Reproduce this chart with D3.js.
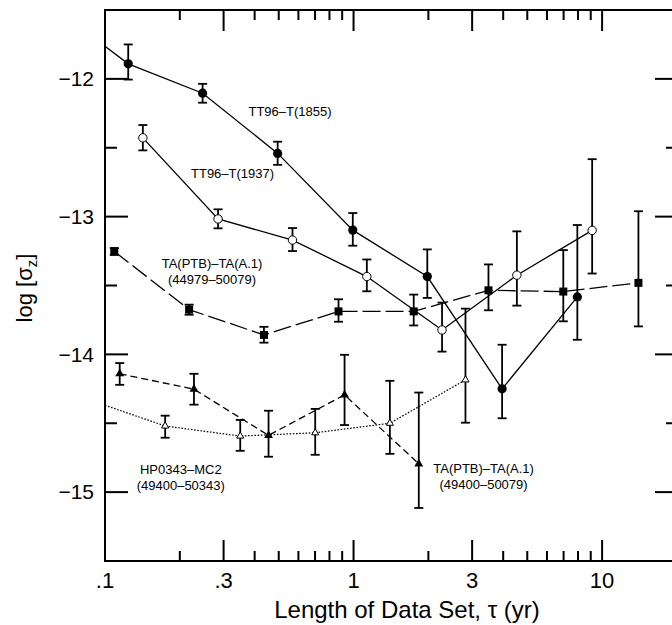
<!DOCTYPE html>
<html>
<head>
<meta charset="utf-8">
<script src="https://cdn.jsdelivr.net/npm/d3@7"></script>
<style>
  body { margin: 0; background: white; }
  text { font-family: "Liberation Sans", Arial, Helvetica, sans-serif; }
</style>
</head>
<body>
<div id="vis"></div>
<script>
// ---- data ----
// TT96-T(1855), filled circles, solid line (first point lies left of the frame)
const tau1855 = [0.0617, 0.124, 0.247, 0.495, 0.993, 1.98, 3.96, 7.95]
const val1855 = [-11.474, -11.891, -12.104, -12.541, -13.098, -13.435, -14.25, -13.583]
const lo1855  = [null, -12.005, -12.173, -12.624, -13.211, -13.59, -14.464, -13.894]
const hi1855  = [null, -11.75, -12.036, -12.456, -12.974, -13.238, -13.93, -13.061]

// TT96-T(1937), open circles, solid line
const tau1937 = [0.142, 0.285, 0.568, 1.131, 2.27, 4.54, 9.12]
const val1937 = [-12.428, -13.017, -13.17, -13.435, -13.823, -13.425, -13.10]
const lo1937  = [-12.519, -13.085, -13.25, -13.542, -13.98, -13.646, -13.413]
const hi1937  = [-12.335, -12.947, -13.083, -13.311, -13.624, -13.107, -12.583]

// TA(PTB)-TA(A.1) (44979-50079), filled squares, long dashes
const tauTaLong = [0.109, 0.218, 0.436, 0.87, 1.746, 3.49, 6.98, 14.0]
const valTaLong = [-13.253, -13.675, -13.859, -13.688, -13.688, -13.535, -13.544, -13.481]
const loTaLong  = [-13.278, -13.712, -13.915, -13.763, -13.79, -13.68, -13.76, -13.797]
const hiTaLong  = [-13.228, -13.639, -13.80, -13.60, -13.566, -13.347, -13.243, -12.961]

// TA(PTB)-TA(A.1) (49400-50079), filled triangles, short dashes
const tauTaShort = [0.1146, 0.228, 0.455, 0.92, 1.83]
const valTaShort = [-14.141, -14.253, -14.588, -14.294, -14.795]
const loTaShort  = [-14.221, -14.365, -14.743, -14.513, -15.115]
const hiTaShort  = [-14.063, -14.141, -14.409, -14.003, -14.277]

// HP0343-MC2 (49400-50343), open triangles, dotted (first point left of the frame)
const tauHp = [0.087, 0.1746, 0.35, 0.701, 1.40, 2.82]
const valHp = [-14.332, -14.52, -14.593, -14.569, -14.50, -14.185]
const loHp  = [null, -14.605, -14.70, -14.729, -14.722, -14.496]
const hiHp  = [null, -14.445, -14.476, -14.396, -14.192, -13.668]

const xMajor = [0.1, 0.3, 1, 3, 10]
const xMajorLabels = [".1", ".3", "1", "3", "10"]
const xMinor = [0.2, 0.4, 0.5, 0.6, 0.7, 0.8, 0.9, 2, 4, 5, 6, 7, 8, 9, 20]
const yMajor = [-15, -14, -13, -12]
const yMinor = [-15.5, -14.5, -13.5, -12.5, -11.5]

const labels = [
  {lines: ["TT96\u2013T(1855)"], tau: 0.555, v: -12.266},
  {lines: ["TT96\u2013T(1937)"], tau: 0.326, v: -12.719},
  {lines: ["TA(PTB)\u2013TA(A.1)", "(44979\u201350079)"], tau: 0.2695, v: -13.373},
  {lines: ["HP0343\u2013MC2", "(49400\u201350343)"], tau: 0.2018, v: -14.865},
  {lines: ["TA(PTB)\u2013TA(A.1)", "(49400\u201350079)"], tau: 3.335, v: -14.861}
]

function zip(tau, val, lo, hi){
  return tau.map((t, i) => ({tau: t, v: val[i], lo: lo[i], hi: hi[i]}))
}

const series = [
  {pts: zip(tau1855, val1855, lo1855, hi1855), marker: "circleFilled", dash: null, lw: 1.3},
  {pts: zip(tau1937, val1937, lo1937, hi1937), marker: "circleOpen", dash: null, lw: 1.3},
  {pts: zip(tauTaLong, valTaLong, loTaLong, hiTaLong), marker: "square", dash: "18,5", lw: 1.3},
  {pts: zip(tauTaShort, valTaShort, loTaShort, hiTaShort), marker: "triFilled", dash: "7,4", lw: 1.3},
  {pts: zip(tauHp, valHp, loHp, hiHp), marker: "triOpen", dash: "1.6,1.6", lw: 1.2}
]

// ---- layout ----
const W = 672, H = 625
const mLeft = 105, mRight = 678, mTop = 10, mBottom = 561

const x = d3.scaleLog().domain([0.1, 20.2]).range([mLeft, mRight])
const y = d3.scaleLinear().domain([-15.5, -11.5]).range([mBottom, mTop])

const svg = d3.select("#vis").append("svg")
  .attr("width", W).attr("height", H)

// ---- ticks as thin filled bars, all pointing inward ----
const tickG = svg.append("g").attr("fill", "#000")
function xTicks(vals, len){
  tickG.selectAll(null).data(vals).join("rect")
    .attr("x", d => x(d) - 1).attr("width", 2)
    .attr("y", mBottom - len).attr("height", len)
  tickG.selectAll(null).data(vals).join("rect")
    .attr("x", d => x(d) - 1).attr("width", 2)
    .attr("y", mTop).attr("height", len)
}
function yTicks(vals, len){
  tickG.selectAll(null).data(vals).join("rect")
    .attr("y", d => y(d) - 1).attr("height", 2)
    .attr("x", mLeft).attr("width", len)
  tickG.selectAll(null).data(vals).join("rect")
    .attr("y", d => y(d) - 1).attr("height", 2)
    .attr("x", mRight - len).attr("width", len)
}
xTicks(xMajor, 21)
xTicks(xMinor, 10)
yTicks(yMajor, 23)
yTicks(yMinor, 12)

svg.append("rect")
  .attr("x", mLeft).attr("y", mTop)
  .attr("width", mRight - mLeft).attr("height", mBottom - mTop)
  .attr("fill", "none").attr("stroke", "#000").attr("stroke-width", 2)

svg.append("g").selectAll("text").data(xMajor).join("text")
  .attr("x", d => x(d)).attr("y", 588)
  .attr("text-anchor", "middle")
  .style("font-size", "22px")
  .text((d, i) => xMajorLabels[i])

svg.append("g").selectAll("text").data(yMajor).join("text")
  .attr("x", 94).attr("y", d => y(d)).attr("dy", "0.35em")
  .attr("text-anchor", "end")
  .style("font-size", "21px")
  .text(d => "\u2212" + Math.abs(d))

// axis titles
svg.append("text")
  .attr("x", 407).attr("y", 618)
  .attr("text-anchor", "middle")
  .style("font-size", "24px")
  .text("Length of Data Set, \u03c4 (yr)")

const yt = svg.append("text")
  .attr("transform", "translate(32,288) rotate(-90)")
  .attr("text-anchor", "middle")
  .style("font-size", "22px")
yt.append("tspan").text("log [\u03c3")
yt.append("tspan").attr("dy", 5).style("font-size", "15px").text("z")
yt.append("tspan").attr("dy", -5).text("]")

// ---- data marks (points outside the frame are not drawn,
// connecting lines are cut at the left frame edge) ----
const inFrame = d => x(d.tau) >= mLeft && y(d.v) >= mTop

function clipSeg(p, q){
  const x0 = x(p.tau), y0 = y(p.v), x1 = x(q.tau), y1 = y(q.v)
  if(x0 >= mLeft) return [[x0, y0], [x1, y1]]
  const t = (mLeft - x0) / (x1 - x0)
  return [[mLeft, y0 + t * (y1 - y0)], [x1, y1]]
}

series.forEach(s => {
  const pts = s.pts
  const coords = []
  for(let i = 0; i < pts.length - 1; i++){
    const seg = clipSeg(pts[i], pts[i + 1])
    if(i == 0) coords.push(seg[0])
    coords.push(seg[1])
  }
  svg.append("path")
    .attr("d", d3.line()(coords))
    .attr("fill", "none")
    .attr("stroke", "#000")
    .attr("stroke-width", s.lw)
    .attr("stroke-dasharray", s.dash)

  const shown = pts.filter(inFrame)
  const withErr = shown.filter(d => d.lo != null)
  const eb = svg.append("g").attr("stroke", "#000").attr("stroke-width", 1.8)
  eb.selectAll(null).data(withErr).join("line")
    .attr("x1", d => x(d.tau)).attr("x2", d => x(d.tau))
    .attr("y1", d => y(d.lo)).attr("y2", d => y(d.hi))
  eb.selectAll(null).data(withErr).join("line")
    .attr("x1", d => x(d.tau) - 4.5).attr("x2", d => x(d.tau) + 4.5)
    .attr("y1", d => y(d.lo)).attr("y2", d => y(d.lo))
  eb.selectAll(null).data(withErr).join("line")
    .attr("x1", d => x(d.tau) - 4.5).attr("x2", d => x(d.tau) + 4.5)
    .attr("y1", d => y(d.hi)).attr("y2", d => y(d.hi))

  const mk = svg.append("g")
  if(s.marker == "circleFilled"){
    mk.selectAll("circle").data(shown).join("circle")
      .attr("cx", d => x(d.tau)).attr("cy", d => y(d.v)).attr("r", 4.6)
      .attr("fill", "#000")
  } else if(s.marker == "circleOpen"){
    mk.selectAll("circle").data(shown).join("circle")
      .attr("cx", d => x(d.tau)).attr("cy", d => y(d.v)).attr("r", 4.2)
      .attr("fill", "white").attr("stroke", "#000").attr("stroke-width", 1)
  } else if(s.marker == "square"){
    mk.selectAll("rect").data(shown).join("rect")
      .attr("x", d => x(d.tau) - 4).attr("y", d => y(d.v) - 4)
      .attr("width", 8).attr("height", 8)
      .attr("fill", "#000")
  } else if(s.marker == "triFilled"){
    mk.selectAll("path").data(shown).join("path")
      .attr("transform", d => `translate(${x(d.tau)},${y(d.v)})`)
      .attr("d", d3.symbol().type(d3.symbolTriangle).size(34))
      .attr("fill", "#000")
  } else {
    mk.selectAll("path").data(shown).join("path")
      .attr("transform", d => `translate(${x(d.tau)},${y(d.v)})`)
      .attr("d", d3.symbol().type(d3.symbolTriangle).size(22))
      .attr("fill", "white").attr("stroke", "#000").attr("stroke-width", 1)
  }
})

// ---- curve labels ----
labels.forEach(l => {
  const t = svg.append("text")
    .attr("x", x(l.tau)).attr("y", y(l.v))
    .attr("text-anchor", "middle")
    .style("font-size", "13px")
  l.lines.forEach((ln, i) => {
    t.append("tspan").attr("x", x(l.tau)).attr("dy", i == 0 ? 0 : 16).text(ln)
  })
})
</script>
</body>
</html>
